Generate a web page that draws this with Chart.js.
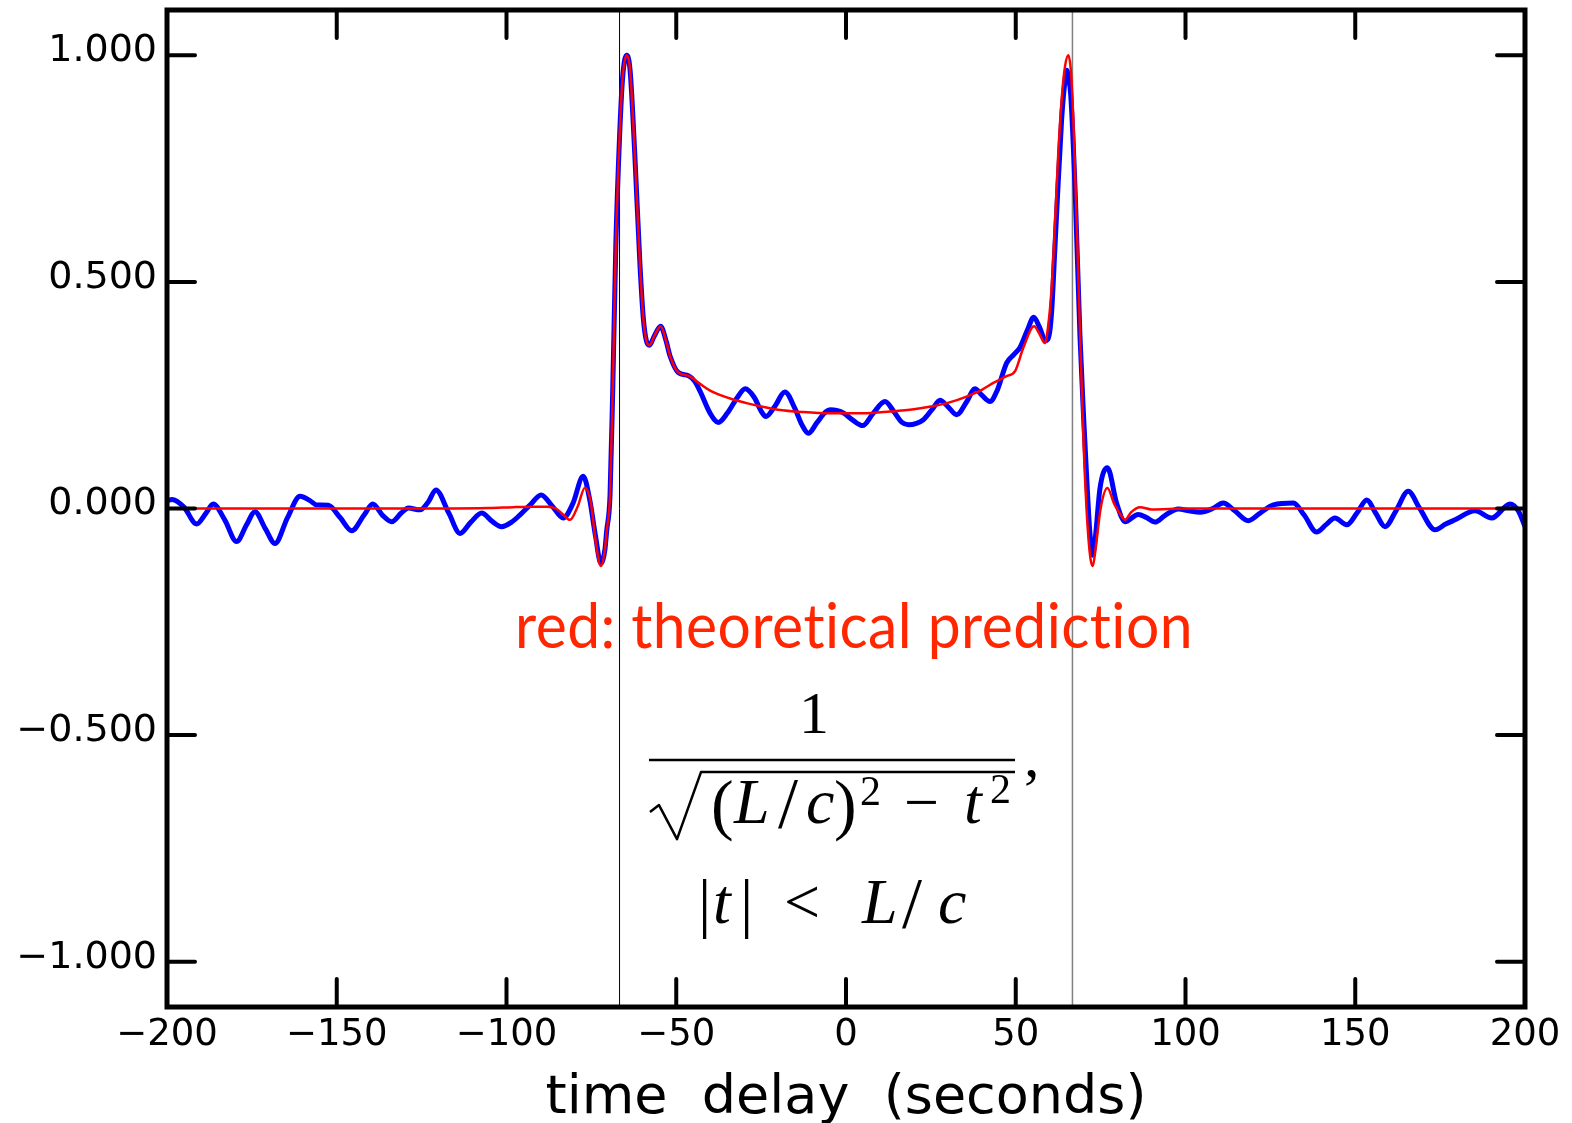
<!DOCTYPE html>
<html>
<head>
<meta charset="utf-8">
<title>time delay</title>
<script src="https://cdn.jsdelivr.net/npm/chart.js@4.4.1/dist/chart.umd.min.js"></script>
<style>
    html, body { margin: 0; padding: 0; background: #fff; }
    #wrap { width: 1572px; height: 1123px; }
</style>
</head>
<body>
<div id="wrap"><canvas id="chart" width="1572" height="1123"></canvas></div>
<script>
// measured cross-correlation (blue)
const blueT = [-200, -198.5, -195, -191.3, -188.5, -186.4, -183, -179.5, -176.5, -174.1, -171, -168.2, -164.5, -160.8, -158, -155.9,
    -152.5, -149, -145.6, -142, -139.4, -136.5, -133.8, -131, -128.9, -125.5, -123, -120.8, -117, -113.7, -110.5, -107.3,
    -104.3, -101.4, -98.5, -96, -93, -89.8, -86.5, -83.3, -80.5, -77.4, -75.5, -73.8, -72.2, -71, -70.5, -69.5,
    -68.7, -67.8, -66.7, -65.8, -64.6, -63.6, -62.2, -60.7, -59.7, -58.8, -57.9, -56.5, -54.6, -53, -51.8, -49.4,
    -46.4, -44.5, -43, -40, -37.6, -35, -32, -29.7, -27, -25, -23.6, -21, -18, -15, -13, -11.1,
    -8.5, -6, -4.7, -2.5, -0.8, 2, 4.9, 8, 11.5, 14, 16.5, 18.4, 22.8, 25.5, 27.7, 30,
    32.6, 35.5, 38, 40, 42.4, 44.5, 47.3, 49.5, 51.3, 53.5, 55.3, 57, 58.8, 60, 60.6, 61.5,
    62.1, 63.5, 64.3, 65, 65.6, 66.2, 67.5, 68.9, 70, 70.9, 71.8, 72.6, 73.5, 74.8, 77, 79.7,
    82.2, 86.1, 88.5, 91, 94, 97.9, 101, 104.3, 108, 111.1, 114.5, 118.5, 122, 125.9, 131.8, 135,
    138.6, 141.5, 144, 147.5, 150.5, 153.4, 156, 158.8, 162, 165.6, 169, 173.5, 176.5, 179.4, 185.3, 190.2,
    195.6, 198, 200];
const blueV = [0.017, 0.02, 0.003, -0.034, -0.01, 0.01, -0.025, -0.073, -0.035, -0.007, -0.045, -0.077, -0.02, 0.027, 0.018, 0.008,
    0.007, -0.02, -0.049, -0.015, 0.01, -0.015, -0.029, -0.01, 0.001, -0.003, 0.015, 0.041, -0.01, -0.055, -0.03, -0.01,
    -0.028, -0.04, -0.03, -0.014, 0.008, 0.03, 0.005, -0.021, 0.01, 0.071, 0.02, -0.06, -0.121, -0.09, -0.05, 0.03,
    0.265, 0.58, 0.82, 0.95, 1.0, 0.967, 0.78, 0.54, 0.42, 0.37, 0.36, 0.38, 0.402, 0.37, 0.336, 0.30,
    0.293, 0.28, 0.259, 0.21, 0.19, 0.21, 0.245, 0.264, 0.245, 0.215, 0.203, 0.225, 0.257, 0.22, 0.185, 0.166,
    0.19, 0.213, 0.218, 0.216, 0.211, 0.195, 0.183, 0.21, 0.236, 0.215, 0.19, 0.185, 0.196, 0.22, 0.239, 0.225,
    0.207, 0.235, 0.264, 0.25, 0.236, 0.26, 0.321, 0.34, 0.356, 0.395, 0.422, 0.40, 0.37, 0.39, 0.438, 0.57,
    0.66, 0.857, 0.93, 0.967, 0.95, 0.912, 0.699, 0.383, 0.2, 0.068, -0.05, -0.103, -0.06, 0.044, 0.09, 0.012,
    -0.029, -0.013, -0.02, -0.03, -0.015, -0.001, -0.005, -0.008, 0.0, 0.012, -0.005, -0.027, -0.01, 0.008, 0.012, -0.015,
    -0.052, -0.035, -0.021, -0.036, -0.01, 0.019, -0.01, -0.04, -0.005, 0.038, 0.0, -0.047, -0.035, -0.025, -0.005, -0.021,
    0.01, -0.005, -0.04];

// theoretical prediction (red)
const redT = [-200, -150, -120, -105, -98, -92, -88, -85.5, -83.5, -81.3, -79, -76.9, -75.2, -73.6, -72.2, -71,
    -70.5, -69.5, -68.7, -67.8, -66.7, -65.8, -64.6, -63.6, -62.2, -60.7, -59.7, -58.8, -57.9, -56.5, -54.6, -53,
    -51.8, -49.4, -46.4, -43, -40, -37, -33, -29, -25, -20, -13, -5, 0, 5, 13, 20,
    25, 30, 35.5, 40, 43.4, 47.3, 49.8, 52.2, 55.4, 57, 58.6, 59.5, 60.5, 61.5, 62.5, 63.5,
    64.5, 65.5, 66.3, 67, 68, 69, 70, 71, 72, 72.7, 73.5, 75, 77, 79, 81, 82.2,
    84, 86.6, 90, 100, 150, 200];
const redV = [0, 0, 0, 0.001, 0.003, 0.004, 0.004, 0.0, -0.012, -0.025, 0.005, 0.046, 0.015, -0.08, -0.127, -0.09,
    -0.05, 0.03, 0.265, 0.58, 0.82, 0.95, 1.0, 0.967, 0.78, 0.54, 0.42, 0.37, 0.36, 0.38, 0.402, 0.37,
    0.336, 0.30, 0.293, 0.275, 0.26, 0.25, 0.24, 0.232, 0.225, 0.218, 0.213, 0.21, 0.21, 0.21, 0.214, 0.219,
    0.225, 0.233, 0.247, 0.262, 0.277, 0.292, 0.303, 0.354, 0.402, 0.385, 0.365, 0.40, 0.48, 0.62, 0.78, 0.9,
    0.975, 1.0, 0.96, 0.85, 0.62, 0.37, 0.14, -0.02, -0.11, -0.127, -0.09, 0.0, 0.045, 0.01, -0.015, -0.025,
    -0.008, 0.003, -0.002, 0, 0, 0];

const xTicks = [-200, -150, -100, -50, 0, 50, 100, 150, 200];
const yTicks = [-1, -0.5, 0, 0.5, 1];
const lightTime = 66.7; // L/c, seconds
const noteText = 'red: theoretical prediction';

const minus = (v, digits) => (v < 0 ? '\u2212' : '') + Math.abs(v).toFixed(digits);
const toPoints = (ts, vs) => ts.map((t, i) => ({ x: t, y: vs[i] }));

// box, inward ticks, L/c markers and the annotation
const framePlugin = {
    id: 'frame',
    beforeDatasetsDraw(chart) {
        const { ctx, chartArea: a, scales: { x } } = chart;
        ctx.save();
        [[-lightTime, '#000', 1], [lightTime, '#808080', 1.5]].forEach(([t, color, w]) => {
            const px = x.getPixelForValue(t);
            ctx.strokeStyle = color;
            ctx.lineWidth = w;
            ctx.beginPath();
            ctx.moveTo(px, a.top);
            ctx.lineTo(px, a.bottom);
            ctx.stroke();
        });
        ctx.restore();
    },
    afterDraw(chart) {
        const { ctx, chartArea: a, scales: { x, y } } = chart;
        const len = 28;
        ctx.save();
        ctx.strokeStyle = '#000';
        ctx.lineWidth = 4;
        ctx.lineCap = 'round';
        x.ticks.forEach(t => {
            const px = x.getPixelForValue(t.value);
            ctx.beginPath();
            ctx.moveTo(px, a.bottom); ctx.lineTo(px, a.bottom - len);
            ctx.moveTo(px, a.top); ctx.lineTo(px, a.top + len);
            ctx.stroke();
        });
        y.ticks.forEach(t => {
            const py = y.getPixelForValue(t.value);
            ctx.beginPath();
            ctx.moveTo(a.left, py); ctx.lineTo(a.left + len, py);
            ctx.moveTo(a.right, py); ctx.lineTo(a.right - len, py);
            ctx.stroke();
        });
        ctx.lineCap = 'butt';
        ctx.lineJoin = 'miter';
        ctx.lineWidth = 5;
        ctx.strokeRect(a.left, a.top, a.right - a.left, a.bottom - a.top);

        // annotation anchored at (0, -0.5)
        const ox = x.getPixelForValue(0);
        const oy = y.getPixelForValue(-0.5);
        ctx.textBaseline = 'alphabetic';
        ctx.fillStyle = 'rgb(255,38,0)';
        ctx.font = '61px Lato';
        ctx.letterSpacing = '0.5px';
        ctx.textAlign = 'center';
        ctx.fillText(noteText, ox + 8, oy - 87, 678);
        ctx.letterSpacing = '0px';

        ctx.fillStyle = '#000';
        const serif = (size, italic) => (italic ? 'italic ' : '') + size + 'px "Liberation Serif"';
        const glyph = (txt, dx, dy, size, italic) => {
            ctx.font = serif(size, italic);
            ctx.fillText(txt, ox + dx, oy + dy);
        };
        glyph('1', -32, -2, 60, false);
        ctx.textAlign = 'left';
        // fraction bar
        ctx.lineWidth = 2.5;
        ctx.beginPath();
        ctx.moveTo(ox - 197, oy + 25);
        ctx.lineTo(ox + 169, oy + 25);
        ctx.stroke();
        // radical
        ctx.lineJoin = 'round';
        ctx.beginPath();
        ctx.moveTo(ox - 196, oy + 77);
        ctx.lineTo(ox - 187, oy + 70);
        ctx.lineTo(ox - 169, oy + 104);
        ctx.lineTo(ox - 145, oy + 37);
        ctx.lineTo(ox + 169, oy + 37);
        ctx.stroke();
        // denominator
        glyph('(', -135, 92, 68, false);
        glyph('L', -112, 88, 64, true);
        glyph('/', -68, 92, 72, false);
        glyph('c', -40, 88, 64, true);
        glyph(')', -12, 92, 68, false);
        glyph('2', 14, 70, 42, false);
        glyph('\u2212', 58, 88, 62, false);
        glyph('t', 118, 88, 64, true);
        glyph('2', 144, 68, 42, false);
        glyph(',', 178, 41, 62, false);
        // condition
        glyph('|', -148, 190, 66, false);
        glyph('t', -133, 188, 64, true);
        glyph('|', -106, 190, 66, false);
        glyph('<', -62, 188, 64, false);
        glyph('L', 16, 188, 64, true);
        glyph('/', 56, 192, 72, false);
        glyph('c', 92, 188, 64, true);
        ctx.restore();
    }
};

const ctx = document.getElementById('chart').getContext('2d');

let delayChart = new Chart(ctx, {
    type: 'line',
    data: {
        datasets: [{
            label: 'theory',
            data: toPoints(redT, redV),
            borderColor: 'rgb(255,0,0)',
            borderWidth: 2.5,
            pointRadius: 0,
            cubicInterpolationMode: 'monotone'
        }, {
            label: 'measured',
            data: toPoints(blueT, blueV),
            borderColor: 'rgb(0,0,255)',
            borderWidth: 5,
            pointRadius: 0,
            cubicInterpolationMode: 'monotone'
        }]
    },
    options: {
        responsive: false,
        animation: false,
        events: [],
        layout: { padding: { left: 0, top: 10, right: 47, bottom: 0 } },
        plugins: {
            legend: { display: false },
            tooltip: { enabled: false }
        },
        scales: {
            x: {
                type: 'linear',
                min: -200,
                max: 200,
                grid: { display: false, drawTicks: false },
                border: { display: false },
                afterBuildTicks: s => { s.ticks = xTicks.map(v => ({ value: v })); },
                afterFit: s => { s.height = 116; s.paddingLeft = 0; s.paddingRight = 0; },
                ticks: {
                    color: '#000',
                    font: { family: 'DejaVu Sans', size: 37 },
                    padding: 6,
                    maxRotation: 0,
                    autoSkip: false,
                    callback: v => minus(v, 0)
                },
                title: {
                    display: true,
                    text: 'time  delay  (seconds)',
                    color: '#000',
                    font: { family: 'DejaVu Sans', size: 54, lineHeight: 0.8 },
                    padding: { top: 0, bottom: 2 }
                }
            },
            y: {
                type: 'linear',
                min: -1.1,
                max: 1.1,
                grid: { display: false, drawTicks: false },
                border: { display: false },
                afterBuildTicks: s => { s.ticks = yTicks.map(v => ({ value: v })); },
                afterFit: s => { s.width = 167; s.paddingTop = 0; s.paddingBottom = 0; },
                ticks: {
                    color: '#000',
                    font: { family: 'DejaVu Sans', size: 38 },
                    padding: 10,
                    labelOffset: -4,
                    callback: v => minus(v, 3)
                }
            }
        }
    },
    plugins: [framePlugin]
});
</script>
</body>
</html>
